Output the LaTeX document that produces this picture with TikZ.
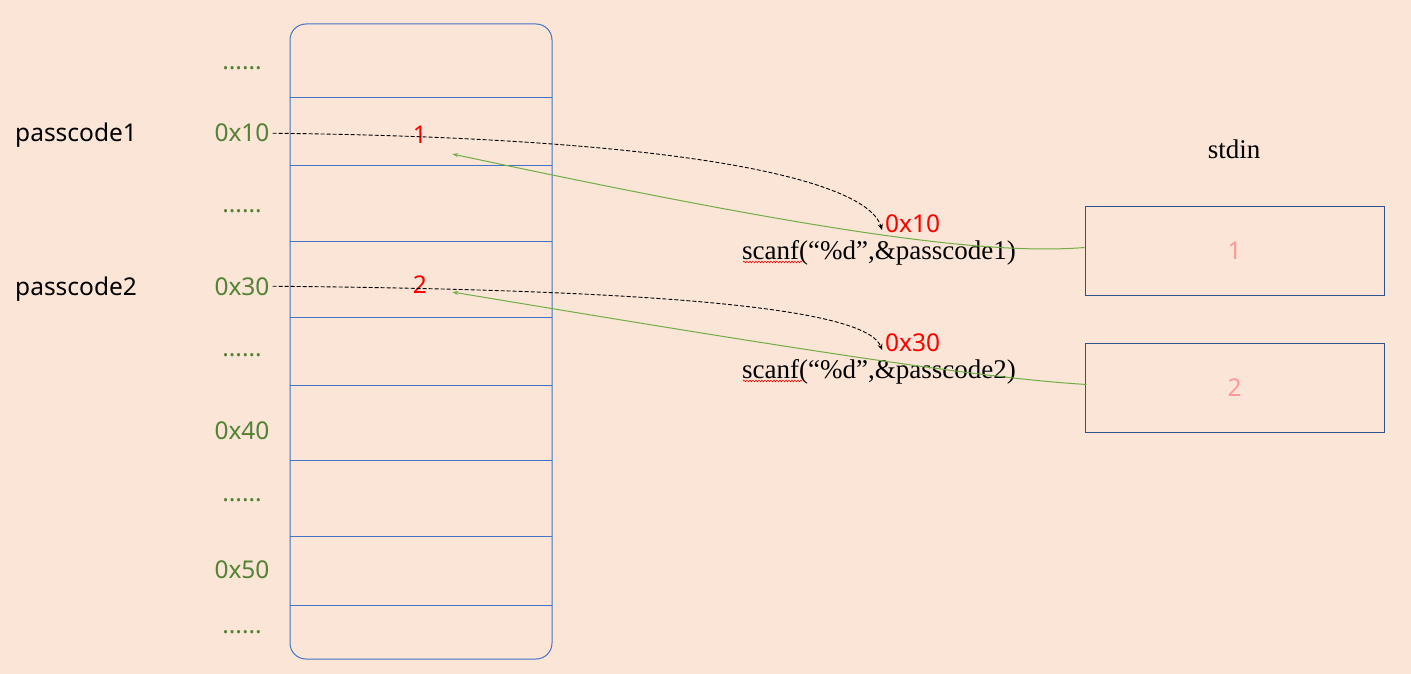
\documentclass[tikz,border=0pt]{standalone}
\usepackage{fontspec}
\setmainfont{Liberation Serif}
\newfontfamily\labfont{Noto Sans}
\usetikzlibrary{calc,arrows.meta,decorations.pathmorphing}
\definecolor{bgpeach}{HTML}{FBE5D6}
\definecolor{cellblue}{HTML}{4472C4}
\definecolor{boxblue}{HTML}{2F528F}
\definecolor{addrgreen}{HTML}{548235}
\definecolor{linegreen}{HTML}{70AD47}
\definecolor{valpink}{HTML}{FF9999}
\tikzset{
  cell/.style={draw=cellblue, line width=1pt},
  sans/.style={font=\labfont\fontsize{24.5}{29}\selectfont, inner sep=0pt},
  addr/.style={sans, text=addrgreen, anchor=base},
  redval/.style={sans, text=red},
  serif/.style={font=\fontsize{27}{32}\selectfont, inner sep=0pt},
  inbox/.style={draw=boxblue, line width=1pt, minimum width=299pt, minimum height=89pt,
    sans, text=valpink},
  fetch/.style={densely dashed, dash pattern=on 4pt off 2pt, line width=0.9pt,
    -{Stealth[length=6pt,width=5pt]}},
  feed/.style={draw=linegreen, line width=1pt, -{Stealth[length=6pt,width=4pt]}},
  spell/.style={draw=red, line width=0.6pt, decorate,
    decoration={snake, amplitude=0.8pt, segment length=3pt}}
}
\begin{document}
\begin{tikzpicture}[x=1pt,y=-1pt]
  \fill[bgpeach] (0,0) rectangle (1411,674);
  \useasboundingbox (0,0) rectangle (1411,674);

  \draw[cell, rounded corners=16pt] (290,24) rectangle (552,659);
  \foreach \y in {98,166,241,317,385,460,536,605}
    \draw[cell] (290,\y) -- (552,\y);

  \node[addr] (d0) at (242,70) {......};
  \node[addr] (a10) at (242,142) {0x10};
  \node[addr] (d1) at (242,212) {......};
  \node[addr] (a30) at (242,295) {0x30};
  \node[addr] (d2) at (242,356) {......};
  \node[addr] (a40) at (242,439) {0x40};
  \node[addr] (d3) at (242,501) {......};
  \node[addr] (a50) at (242,578) {0x50};
  \node[addr] (d4) at (242,633) {......};

  \node[sans, anchor=base west] (p1) at (15,142) {passcode1};
  \node[sans, anchor=base west] (p2) at (15,295) {passcode2};

  \node[redval, anchor=base] (v1) at (420,144) {1};
  \node[redval, anchor=base] (v2) at (420,293) {2};

  \node[redval, anchor=base west] (r10) at (885,232) {0x10};
  \node[redval, anchor=base west] (r30) at (885,351) {0x30};

  \node[serif, anchor=base west] (s1) at (742,259) {scanf(“\%d”,\&passcode1)};
  \node[serif, anchor=base west] (s2) at (742,378) {scanf(“\%d”,\&passcode2)};
  \draw[spell] ($(s1.base west)+(1,3)$) -- ++(59,0);
  \draw[spell] ($(s2.base west)+(1,3)$) -- ++(59,0);

  \node[serif, anchor=base] (sd) at (1234,158) {stdin};
  \node[inbox] (in1) at (1234.5,250.5) {1};
  \node[inbox] (in2) at (1234.5,387.5) {2};

  \draw[fetch] ([xshift=3pt]a10.east) .. controls (700,138) and (868,182) ..
    ($(r10.base west)+(-3,-2)$);
  \draw[fetch] ([xshift=3pt]a30.east) .. controls (700,290) and (868,312) ..
    ($(r30.base west)+(-3,-1)$);

  \draw[feed] ([yshift=3pt]in1.west) .. controls (980,256) and (800,228) ..
    ($(v1.base east)+(25,10)$);
  \draw[feed] ([xshift=2pt,yshift=3pt]in2.west) .. controls (980,378) and (800,350) ..
    ($(v2.base east)+(25,-1)$);
\end{tikzpicture}
\end{document}
